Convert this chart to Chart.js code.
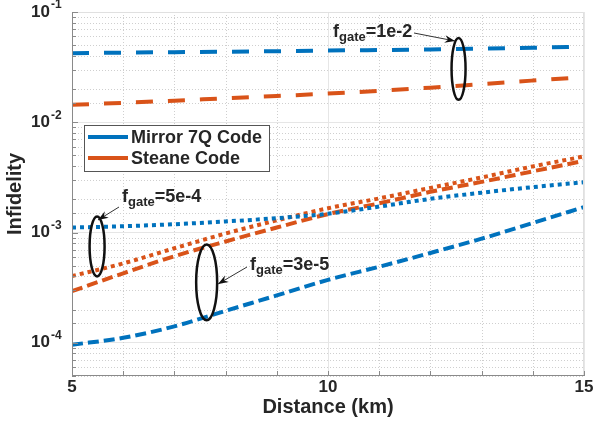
<!DOCTYPE html>
<html>
<head>
<meta charset="utf-8">
<script src="https://cdn.jsdelivr.net/npm/chart.js@4/dist/chart.umd.min.js"></script>
<style>
  body { margin: 0; background: #fff; }
  #wrap { width: 593px; height: 433px; position: relative; }
</style>
</head>
<body>
<div id="wrap"><canvas id="infid"></canvas></div>
<script>
// distance in km
const distance = [5, 6, 7, 8, 9, 10, 11, 12, 13, 14, 15]

// f_gate = 1e-2 (dashed)
const mirror1e2 = [0.0423, 0.0428, 0.0432, 0.0436, 0.0441, 0.0447, 0.0452, 0.0457, 0.0465, 0.0474, 0.0485]
const steane1e2 = [0.0144, 0.0150, 0.0157, 0.0165, 0.0173, 0.0182, 0.0193, 0.0206, 0.0222, 0.0239, 0.0257]

// f_gate = 5e-4 (dotted)
const mirror5e4 = [1.11e-3, 1.14e-3, 1.19e-3, 1.26e-3, 1.35e-3, 1.48e-3, 1.72e-3, 2.02e-3, 2.30e-3, 2.58e-3, 2.86e-3]
const steane5e4 = [4.03e-4, 5.25e-4, 7.2e-4, 9.8e-4, 1.29e-3, 1.66e-3, 2.04e-3, 2.54e-3, 3.16e-3, 3.98e-3, 4.90e-3]

// f_gate = 3e-5 (dash-dot)
const mirror3e5 = [9.6e-5, 1.11e-4, 1.41e-4, 1.95e-4, 2.69e-4, 3.72e-4, 4.9e-4, 6.53e-4, 8.8e-4, 1.22e-3, 1.70e-3]
const steane3e5 = [2.94e-4, 4.27e-4, 6.1e-4, 8.3e-4, 1.11e-3, 1.47e-3, 1.84e-3, 2.34e-3, 2.88e-3, 3.59e-3, 4.47e-3]

const xTickLabels = [5, 10, 15]
const yDecades = [1e-4, 1e-3, 1e-2, 1e-1]
const yExponents = ['-4', '-3', '-2', '-1']
const legendNames = ['Mirror 7Q Code', 'Steane Code']

const BLUE = '#0072BD'
const ORANGE = '#D95319'
const INK = '#262626'
const FONT = '"Liberation Sans", Arial, sans-serif'

function pts(ys) {
    return distance.map((d, i) => ({ x: d, y: ys[i] }))
}

function series(ys, color, dash) {
    return {
        data: pts(ys),
        borderColor: color,
        borderWidth: 4,
        borderDash: dash,
        pointRadius: 0,
        cubicInterpolationMode: 'monotone',
        fill: false
    }
}

function isDecade(v) {
    const l = Math.log10(v)
    return Math.abs(l - Math.round(l)) < 1e-6
}

// grid, box, labels, legend and the ellipse notes
const decor = {
    id: 'decor',
    beforeDatasetsDraw(chart) {
        const { ctx, chartArea: a, scales } = chart
        ctx.save()
        ctx.strokeStyle = '#cfcfcf'
        ctx.lineWidth = 1
        ctx.setLineDash([1, 2])
        scales.x.ticks.forEach(t => {
            if (t.value % 5 === 0) return
            const x = Math.round(scales.x.getPixelForValue(t.value)) + 0.5
            ctx.beginPath(); ctx.moveTo(x, a.top); ctx.lineTo(x, a.bottom); ctx.stroke()
        })
        scales.y.ticks.forEach(t => {
            if (isDecade(t.value)) return
            const y = Math.round(scales.y.getPixelForValue(t.value)) + 0.5
            ctx.beginPath(); ctx.moveTo(a.left, y); ctx.lineTo(a.right, y); ctx.stroke()
        })
        ctx.restore()
    },
    afterDatasetsDraw(chart) {
        const { ctx, chartArea: a, scales } = chart
        const sx = scales.x, sy = scales.y
        ctx.save()

        // box
        ctx.lineWidth = 1
        ctx.strokeStyle = '#e0e0e0'
        ctx.beginPath()
        ctx.moveTo(a.left, a.top + 0.5); ctx.lineTo(a.right - 0.5, a.top + 0.5); ctx.lineTo(a.right - 0.5, a.bottom)
        ctx.stroke()
        ctx.strokeStyle = '#8a8a8a'
        ctx.beginPath()
        ctx.moveTo(a.left + 0.5, a.top); ctx.lineTo(a.left + 0.5, a.bottom - 0.5); ctx.lineTo(a.right, a.bottom - 0.5)
        ctx.stroke()

        // inward ticks
        sx.ticks.forEach(t => {
            const x = Math.round(sx.getPixelForValue(t.value)) + 0.5
            ctx.beginPath(); ctx.moveTo(x, a.bottom); ctx.lineTo(x, a.bottom - 5); ctx.stroke()
        })
        sy.ticks.forEach(t => {
            const y = Math.round(sy.getPixelForValue(t.value)) + 0.5
            const len = isDecade(t.value) ? 6 : 4
            ctx.beginPath(); ctx.moveTo(a.left, y); ctx.lineTo(a.left + len, y); ctx.stroke()
        })

        // tick labels
        ctx.fillStyle = INK
        ctx.font = 'bold 17px ' + FONT
        ctx.textAlign = 'center'
        ctx.textBaseline = 'middle'
        xTickLabels.forEach(v => ctx.fillText(String(v), sx.getPixelForValue(v), a.bottom + 11))
        yDecades.forEach((v, i) => {
            const y = sy.getPixelForValue(v)
            ctx.font = 'bold 17px ' + FONT
            ctx.textAlign = 'right'
            ctx.fillText('10', 50, y)
            ctx.font = 'bold 12px ' + FONT
            ctx.textAlign = 'left'
            ctx.fillText(yExponents[i], 51, y - 7)
        })

        // axis titles
        ctx.font = 'bold 20px ' + FONT
        ctx.textAlign = 'center'
        ctx.fillText('Distance (km)', (a.left + a.right) / 2, a.bottom + 31)
        ctx.save()
        ctx.translate(15, 194)
        ctx.rotate(-Math.PI / 2)
        ctx.fillText('Infidelity', 0, 0)
        ctx.restore()

        // legend
        ctx.fillStyle = '#fff'
        ctx.fillRect(84.5, 125.5, 185, 46)
        ctx.strokeStyle = '#555'
        ctx.lineWidth = 1
        ctx.strokeRect(84.5, 125.5, 185, 46)
        ;[BLUE, ORANGE].forEach((c, i) => {
            const y = 137 + i * 21
            ctx.strokeStyle = c
            ctx.lineWidth = 4
            ctx.beginPath(); ctx.moveTo(88, y); ctx.lineTo(128, y); ctx.stroke()
            ctx.fillStyle = INK
            ctx.font = 'bold 18px ' + FONT
            ctx.textAlign = 'left'
            ctx.textBaseline = 'middle'
            ctx.fillText(legendNames[i], 131, y + 1)
        })

        // ellipses: x centre (km), y top / bottom (value), half width px
        const rings = [[12.55, 0.0582, 0.016, 7], [5.49, 1.4e-3, 4.0e-4, 7.5], [7.63, 7.8e-4, 1.6e-4, 10.5]]
        ctx.strokeStyle = '#111'
        ctx.lineWidth = 2.5
        rings.forEach(r => {
            const cx = sx.getPixelForValue(r[0])
            const yt = sy.getPixelForValue(r[1]), yb = sy.getPixelForValue(r[2])
            ctx.beginPath()
            ctx.ellipse(cx, (yt + yb) / 2, r[3], (yb - yt) / 2, 0, 0, Math.PI * 2)
            ctx.stroke()
        })

        // arrows
        function arrow(x0, y0, x1, y1) {
            ctx.strokeStyle = '#333'
            ctx.fillStyle = '#111'
            ctx.lineWidth = 1
            ctx.beginPath(); ctx.moveTo(x0, y0); ctx.lineTo(x1, y1); ctx.stroke()
            const ang = Math.atan2(y1 - y0, x1 - x0)
            ctx.beginPath()
            ctx.moveTo(x1, y1)
            ctx.lineTo(x1 - 11 * Math.cos(ang - 0.35), y1 - 11 * Math.sin(ang - 0.35))
            ctx.lineTo(x1 - 7 * Math.cos(ang), y1 - 7 * Math.sin(ang))
            ctx.lineTo(x1 - 11 * Math.cos(ang + 0.35), y1 - 11 * Math.sin(ang + 0.35))
            ctx.closePath()
            ctx.fill()
        }
        arrow(414, 33, 455, 41)
        arrow(119, 207, 98, 220)
        arrow(247, 267, 218, 284)

        // f_gate labels
        function gate(x, base, val) {
            ctx.fillStyle = INK
            ctx.textAlign = 'left'
            ctx.textBaseline = 'alphabetic'
            ctx.font = 'bold 18px ' + FONT
            ctx.fillText('f', x, base)
            let w = ctx.measureText('f').width
            ctx.font = 'bold 13px ' + FONT
            ctx.fillText('gate', x + w, base + 4)
            w += ctx.measureText('gate').width
            ctx.font = 'bold 18px ' + FONT
            ctx.fillText('=' + val, x + w, base)
        }
        gate(333, 37, '1e-2')
        gate(122, 202, '5e-4')
        gate(250, 270, '3e-5')

        ctx.restore()
    }
}

new Chart(document.getElementById('infid'), {
    type: 'line',
    data: {
        datasets: [
            series(mirror1e2, BLUE, [17, 15]),
            series(steane1e2, ORANGE, [17, 15]),
            series(mirror5e4, BLUE, [4, 4]),
            series(steane5e4, ORANGE, [4, 4]),
            series(mirror3e5, BLUE, [11, 5]),
            series(steane3e5, ORANGE, [11, 5])
        ]
    },
    options: {
        responsive: true,
        maintainAspectRatio: false,
        animation: false,
        layout: { padding: { top: 12, right: 9, left: 0, bottom: 0 } },
        plugins: { legend: { display: false }, tooltip: { enabled: false } },
        scales: {
            x: {
                type: 'linear',
                min: 5,
                max: 15,
                ticks: { stepSize: 1, display: false },
                grid: {
                    drawTicks: false,
                    color: c => (c.tick && c.tick.value % 5 === 0) ? '#e6e6e6' : 'rgba(0,0,0,0)'
                },
                border: { display: false },
                afterFit: s => { s.height = 57 }
            },
            y: {
                type: 'logarithmic',
                min: 5e-5,
                max: 0.1,
                ticks: { display: false },
                grid: {
                    drawTicks: false,
                    color: c => (c.tick && isDecade(c.tick.value)) ? '#e6e6e6' : 'rgba(0,0,0,0)'
                },
                border: { display: false },
                afterFit: s => { s.width = 72 }
            }
        }
    },
    plugins: [decor]
})
</script>
</body>
</html>
